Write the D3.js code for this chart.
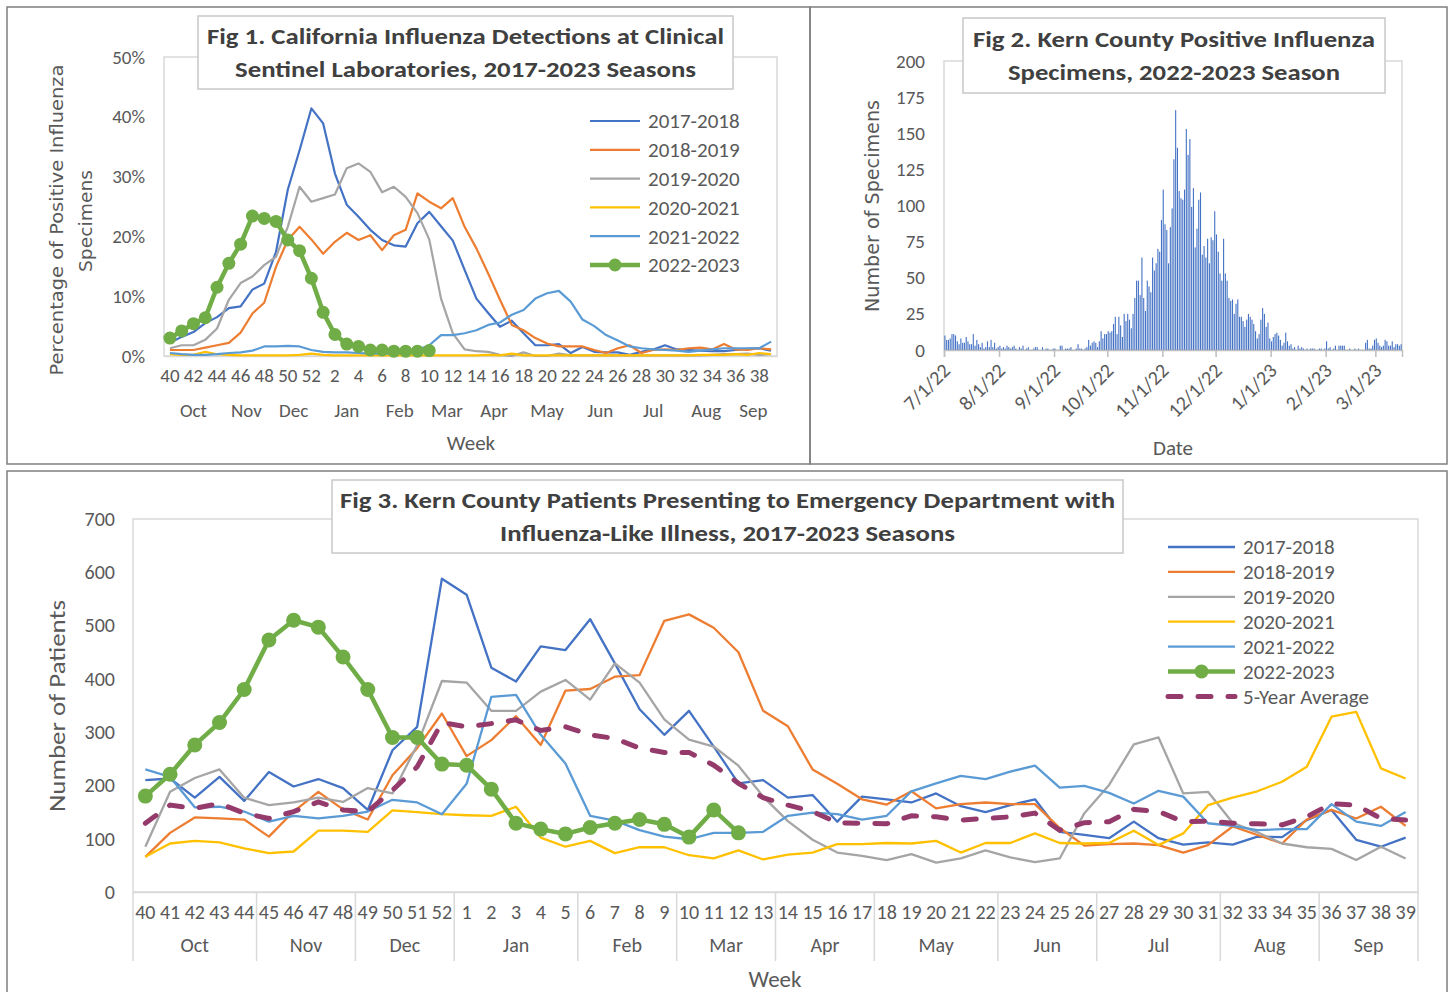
<!DOCTYPE html>
<html>
<head>
<meta charset="utf-8">
<script src="https://cdn.jsdelivr.net/npm/d3@7"></script>
<style>
  body { margin: 0; background: #fff; }
  svg text { font-family: "Liberation Sans Narrow", Carlito, "Open Sans", sans-serif; fill: #595959; }
</style>
</head>
<body>
<svg id="chart" width="1450" height="992"></svg>
<script>
// ---- shared categories ----
const weeks = [40, 41, 42, 43, 44, 45, 46, 47, 48, 49, 50, 51, 52,
  1, 2, 3, 4, 5, 6, 7, 8, 9, 10, 11, 12, 13, 14, 15, 16, 17, 18, 19, 20,
  21, 22, 23, 24, 25, 26, 27, 28, 29, 30, 31, 32, 33, 34, 35, 36, 37, 38, 39];
const monthNames = ["Oct", "Nov", "Dec", "Jan", "Feb", "Mar", "Apr", "May", "Jun", "Jul", "Aug", "Sep"];
const monthWeekCounts = [5, 4, 4, 5, 4, 4, 4, 5, 4, 5, 4, 4];
const seasonNames = ["2017-2018", "2018-2019", "2019-2020", "2020-2021", "2021-2022", "2022-2023"];

// ---- Fig 1: % positive, California sentinel labs ----
const fig1S1718 = [2.2, 3.2, 4.0, 5.5, 6.5, 8.0, 8.3, 11.1, 12.1, 17.4, 27.8, 34.4, 41.4, 38.9, 30.5, 25.3, 23.3, 21.1, 19.4, 18.5, 18.3, 22.2, 24.1, 21.7, 19.3, 14.4, 9.6, 7.2, 4.9, 5.9, 3.8, 1.8, 1.8, 2.0, 0.5, 1.5, 0.7, 0.6, 0.6, 0.2, 0.7, 1.1, 1.8, 1.1, 1.0, 0.9, 0.8, 0.8, 1.0, 1.2, 1.3, 0.9];
const fig1S1819 = [1.0, 1.0, 1.0, 1.4, 1.8, 2.2, 3.9, 7.1, 8.9, 14.9, 19.4, 21.6, 19.5, 17.1, 19.1, 20.6, 19.4, 20.2, 17.7, 20.2, 21.1, 27.2, 25.8, 24.7, 26.4, 21.6, 18.0, 13.8, 9.4, 5.2, 4.3, 3.0, 2.1, 1.6, 1.6, 1.6, 1.0, 0.5, 1.3, 1.8, 0.5, 1.0, 1.1, 1.0, 1.3, 1.4, 1.1, 2.0, 1.1, 1.0, 1.3, 1.1];
const fig1S1920 = [1.3, 1.8, 1.8, 2.7, 4.6, 9.4, 12.2, 13.3, 15.2, 16.6, 21.6, 28.3, 25.8, 26.4, 27.0, 31.4, 32.2, 30.8, 27.4, 28.3, 26.6, 23.9, 19.5, 9.6, 3.8, 1.1, 0.8, 0.7, 0.2, 0.0, 0.6, 0.0, 0.0, 0.4, 0.1, 0.1, 0.1, 0.1, 0.1, 0.1, 0.1, 0.1, 0.1, 0.1, 0.1, 0.1, 0.2, 0.3, 0.3, 0.4, 0.2, 0.3];
const fig1S2021 = [0.3, 0.2, 0.2, 0.7, 0.3, 0.2, 0.1, 0.1, 0.1, 0.1, 0.1, 0.2, 0.4, 0.2, 0.1, 0.1, 0.1, 0.1, 0.1, 0.1, 0.1, 0.1, 0.1, 0.1, 0.1, 0.1, 0.1, 0.2, 0.1, 0.4, 0.1, 0.1, 0.1, 0.1, 0.1, 0.1, 0.1, 0.1, 0.1, 0.1, 0.1, 0.1, 0.1, 0.1, 0.1, 0.2, 0.2, 0.2, 0.3, 0.2, 0.5, 0.3];
const fig1S2122 = [0.5, 0.3, 0.2, 0.2, 0.3, 0.5, 0.6, 0.9, 1.6, 1.6, 1.7, 1.6, 1.0, 0.7, 0.6, 0.6, 0.5, 0.4, 0.4, 0.4, 0.6, 1.0, 1.8, 3.5, 3.5, 3.8, 4.3, 5.2, 5.6, 6.9, 7.7, 9.6, 10.5, 10.9, 9.1, 6.1, 5.0, 3.5, 2.6, 1.6, 1.3, 1.1, 1.0, 0.9, 0.7, 0.9, 1.1, 1.3, 1.3, 1.3, 1.3, 2.4];
const fig1S2223 = [3.0, 4.2, 5.4, 6.4, 11.5, 15.5, 18.7, 23.4, 23.0, 22.5, 19.4, 17.6, 13.0, 7.3, 3.6, 2.0, 1.6, 1.0, 1.0, 0.8, 0.8, 0.8, 0.9];
const fig1Ticks = [0, 10, 20, 30, 40, 50];

// ---- Fig 2: Kern County daily positive specimens, 7/1/22 - 3/15/23 ----
const fig2Start = "2022-07-01";
const countsJul = [10, 7, 7, 8, 11, 11, 10, 6, 4, 8, 5, 5, 9, 6, 4, 4, 11, 3, 7, 4, 2, 5, 1, 2, 6, 2, 7, 2, 5, 1, 2];
const countsAug = [3, 1, 2, 1, 3, 2, 1, 2, 3, 1, 0, 2, 1, 3, 0, 1, 2, 0, 0, 1, 2, 2, 0, 0, 2, 0, 1, 1, 0, 0, 1];
const countsSep = [1, 0, 0, 3, 3, 0, 1, 1, 1, 2, 0, 0, 1, 4, 1, 1, 0, 1, 2, 7, 3, 5, 6, 5, 2, 6, 13, 8, 11, 11];
const countsOct = [13, 12, 13, 18, 23, 11, 23, 17, 9, 25, 20, 25, 21, 15, 25, 36, 48, 48, 38, 64, 36, 27, 48, 44, 40, 64, 55, 60, 70, 68, 90];
const countsNov = [111, 87, 83, 60, 85, 98, 132, 166, 140, 110, 105, 104, 111, 153, 135, 146, 99, 112, 71, 84, 104, 109, 66, 72, 64, 77, 60, 78, 76, 96];
const countsDec = [80, 68, 53, 48, 77, 53, 48, 36, 34, 35, 25, 32, 35, 23, 23, 20, 16, 21, 25, 23, 21, 18, 13, 8, 11, 21, 29, 25, 16, 19, 8];
const countsJan = [6, 9, 11, 12, 10, 7, 3, 5, 12, 6, 3, 4, 1, 2, 0, 3, 1, 2, 1, 0, 1, 0, 1, 1, 1, 0, 0, 1, 1, 0, 1];
const countsFeb = [6, 1, 2, 0, 1, 3, 0, 3, 3, 3, 3, 0, 0, 1, 0, 0, 1, 0, 1, 0, 0, 0, 5, 7, 1, 1, 3, 7];
const countsMar = [8, 5, 3, 2, 3, 7, 6, 3, 3, 6, 2, 4, 4, 3, 4];
const fig2Ticks = [0, 25, 50, 75, 100, 125, 150, 175, 200];

// ---- Fig 3: ED visits for ILI, Kern County ----
const fig3S1718 = [210, 213, 177, 216, 171, 225, 198, 212, 195, 154, 266, 310, 588, 558, 421, 395, 461, 454, 512, 429, 343, 295, 340, 273, 204, 210, 177, 182, 132, 179, 174, 168, 185, 161, 150, 163, 174, 113, 107, 101, 132, 101, 89, 93, 89, 104, 103, 135, 154, 98, 85, 102];
const fig3S1819 = [66, 111, 140, 138, 136, 104, 151, 188, 155, 136, 219, 270, 335, 255, 285, 330, 276, 378, 381, 404, 407, 509, 521, 496, 450, 340, 311, 230, 203, 174, 164, 189, 157, 165, 168, 165, 165, 120, 87, 90, 91, 88, 74, 88, 123, 107, 91, 136, 154, 138, 160, 124];
const fig3S1920 = [85, 188, 214, 230, 177, 163, 168, 177, 169, 195, 185, 276, 396, 393, 340, 340, 376, 398, 361, 429, 393, 324, 286, 273, 237, 179, 133, 98, 74, 68, 60, 71, 55, 63, 78, 65, 56, 63, 148, 201, 277, 290, 185, 188, 130, 112, 91, 84, 81, 60, 85, 63];
const fig3S2021 = [66, 91, 96, 93, 82, 73, 76, 115, 115, 113, 153, 150, 146, 144, 143, 160, 102, 85, 96, 73, 84, 84, 69, 63, 78, 61, 70, 74, 90, 90, 92, 91, 96, 74, 92, 92, 110, 92, 91, 92, 115, 88, 110, 163, 177, 189, 207, 235, 329, 338, 232, 213];
const fig3S2122 = [230, 216, 159, 160, 151, 132, 143, 138, 143, 151, 173, 168, 146, 203, 366, 370, 295, 241, 143, 134, 116, 104, 99, 111, 111, 113, 143, 149, 146, 136, 143, 189, 204, 218, 212, 226, 237, 196, 199, 186, 166, 190, 179, 129, 124, 116, 118, 118, 165, 132, 124, 150];
const fig3S2223 = [180, 221, 276, 318, 380, 473, 510, 497, 441, 380, 290, 290, 240, 238, 193, 129, 118, 109, 121, 129, 136, 127, 103, 154, 111];
const fig3Avg = [129, 163, 157, 166, 148, 138, 151, 169, 154, 151, 191, 235, 318, 310, 316, 323, 303, 310, 295, 288, 270, 262, 262, 238, 204, 177, 163, 151, 130, 129, 128, 143, 141, 135, 138, 141, 148, 116, 130, 132, 155, 151, 132, 133, 129, 128, 126, 141, 166, 163, 138, 135];
const fig3Ticks = [0, 100, 200, 300, 400, 500, 600, 700];

// ---- styles ----
const COLORS = ["#4472C4", "#ED7D31", "#A5A5A5", "#FFC000", "#5B9BD5", "#70AD47"];
const AVG_COLOR = "#953B6C";
const TITLE_COLOR = "#404040";
const FRAME = "#d9d9d9";
const WIDE_FONT = '"DejaVu Sans", Verdana, sans-serif';

const svg = d3.select("#chart");

// outer panels
[[7, 7, 803, 457], [810, 7, 637, 457], [7, 471, 1440, 530]].forEach(([x, y, w, h]) => {
  svg.append("rect").attr("x", x).attr("y", y).attr("width", w).attr("height", h)
    .attr("fill", "none").attr("stroke", "#7f7f7f").attr("stroke-width", 1.5);
});

function titleBox(x, y, w, h, lines, lengths, fontSize, lineGap) {
  const g = svg.append("g");
  g.append("rect").attr("x", x).attr("y", y).attr("width", w).attr("height", h)
    .attr("fill", "#fff").attr("stroke", "#c8c8c8").attr("stroke-width", 1.5);
  lines.forEach((t, i) => {
    g.append("text")
      .attr("x", x + w / 2)
      .attr("y", y + h / 2 + (i - (lines.length - 1) / 2) * lineGap)
      .attr("dy", "0.35em")
      .attr("text-anchor", "middle")
      .attr("font-weight", "bold")
      .attr("font-size", fontSize)
      .attr("textLength", lengths[i])
      .attr("lengthAdjust", "spacingAndGlyphs")
      .style("fill", TITLE_COLOR)
      .text(t);
  });
}

function rotatedTitle(cx, cy, text, fontSize, length, family) {
  const t = svg.append("text")
    .attr("transform", `translate(${cx},${cy}) rotate(-90)`)
    .attr("text-anchor", "middle")
    .attr("dy", "0.35em")
    .attr("font-size", fontSize)
    .text(text);
  if (length) t.attr("textLength", length).attr("lengthAdjust", "spacingAndGlyphs");
  if (family) t.style("font-family", family);
}

function legend(items, x0, x1, tx, y0, dy, fontSize) {
  const g = svg.append("g");
  items.forEach((it, i) => {
    const y = y0 + i * dy;
    g.append("line").attr("x1", x0).attr("x2", x1).attr("y1", y).attr("y2", y)
      .attr("stroke", it.color).attr("stroke-width", it.width)
      .attr("stroke-dasharray", it.dash || null)
      .attr("stroke-linecap", it.dash ? "round" : "butt");
    if (it.marker) {
      g.append("circle").attr("cx", (x0 + x1) / 2).attr("cy", y).attr("r", it.marker).attr("fill", it.color);
    }
    g.append("text").attr("x", tx).attr("y", y).attr("dy", "0.35em")
      .attr("font-size", fontSize).text(it.label);
  });
}

function monthGroups() {
  const starts = d3.cumsum([0].concat(monthWeekCounts.slice(0, -1)));
  return monthNames.map((m, i) => ({ name: m, start: starts[i], count: monthWeekCounts[i] }));
}

// ================= Fig 1 =================
(function () {
  const left = 164, right = 777, top = 57, bottom = 356;
  const x = d3.scaleBand().domain(weeks).range([left, right]);
  const y = d3.scaleLinear().domain([0, 50]).range([bottom, top]);
  const bw = x.bandwidth();

  svg.append("rect").attr("x", left).attr("y", top).attr("width", right - left).attr("height", bottom - top)
    .attr("fill", "none").attr("stroke", FRAME).attr("stroke-width", 1.5);

  const yAxis = svg.append("g").attr("transform", `translate(${left},0)`)
    .call(d3.axisLeft(y).tickValues(fig1Ticks).tickFormat(d => d + "%").tickSize(0).tickPadding(19));
  yAxis.select(".domain").remove();
  yAxis.selectAll("text").attr("font-size", 19).style("font-family", null);

  const xAxis = svg.append("g").attr("transform", `translate(0,${bottom})`)
    .call(d3.axisBottom(x).tickValues(weeks.filter((d, i) => i % 2 === 0)).tickSize(0).tickPadding(13));
  xAxis.select(".domain").attr("stroke", FRAME).attr("stroke-width", 1.5);
  xAxis.selectAll("text").attr("font-size", 19).style("font-family", null);

  monthGroups().forEach(m => {
    svg.append("text")
      .attr("x", x(weeks[m.start]) + bw * m.count / 2)
      .attr("y", 410).attr("dy", "0.35em").attr("text-anchor", "middle")
      .attr("font-size", 19).text(m.name);
  });
  svg.append("text").attr("x", 471).attr("y", 443).attr("dy", "0.35em")
    .attr("text-anchor", "middle").attr("font-size", 21).text("Week");

  rotatedTitle(57, 220, "Percentage of Positive Influenza", 18, 311, WIDE_FONT);
  rotatedTitle(86, 221, "Specimens", 18, 102, WIDE_FONT);

  const series = [fig1S1718, fig1S1819, fig1S1920, fig1S2021, fig1S2122, fig1S2223];
  const line = d3.line().x((d, i) => x(weeks[i]) + bw / 2).y(d => y(d));
  series.forEach((vals, k) => {
    svg.append("path").datum(vals).attr("d", line).attr("fill", "none")
      .attr("stroke", COLORS[k]).attr("stroke-width", k === 5 ? 4.5 : 2.2)
      .attr("stroke-linejoin", "round");
  });
  svg.append("g").selectAll("circle").data(fig1S2223).join("circle")
    .attr("cx", (d, i) => x(weeks[i]) + bw / 2).attr("cy", d => y(d))
    .attr("r", 6.5).attr("fill", COLORS[5]);

  titleBox(198, 16, 535, 73,
    ["Fig 1. California Influenza Detections at Clinical", "Sentinel Laboratories, 2017-2023 Seasons"],
    [517, 461], 23, 33);

  legend(seasonNames.map((s, k) => ({
    label: s, color: COLORS[k], width: k === 5 ? 4.5 : 2.2, marker: k === 5 ? 6.5 : 0
  })), 590, 640, 648, 121, 28.8, 21);
})();

// ================= Fig 2 =================
(function () {
  const left = 944, right = 1402, top = 61, bottom = 350;
  const counts = [].concat(countsJul, countsAug, countsSep, countsOct, countsNov, countsDec, countsJan, countsFeb, countsMar);
  const start = d3.timeParse("%Y-%m-%d")(fig2Start);
  const days = counts.map((v, i) => ({ date: d3.timeDay.offset(start, i), value: v }));
  const x = d3.scaleTime().domain([start, d3.timeDay.offset(start, counts.length)]).range([left, right]);
  const y = d3.scaleLinear().domain([0, 200]).range([bottom, top]);
  const dayW = (right - left) / counts.length;
  const barW = 1.1;

  svg.append("rect").attr("x", left).attr("y", top).attr("width", right - left).attr("height", bottom - top)
    .attr("fill", "none").attr("stroke", FRAME).attr("stroke-width", 1.5);

  const yAxis = svg.append("g").attr("transform", `translate(${left},0)`)
    .call(d3.axisLeft(y).tickValues(fig2Ticks).tickSize(0).tickPadding(19));
  yAxis.select(".domain").remove();
  yAxis.selectAll("text").attr("font-size", 19).style("font-family", null);

  svg.append("g").selectAll("rect").data(days).join("rect")
    .attr("x", d => x(d.date) + (dayW - barW) / 2)
    .attr("width", barW)
    .attr("y", d => y(d.value))
    .attr("height", d => y(0) - y(d.value))
    .attr("fill", "#4472C4");

  const xAxis = svg.append("g").attr("transform", `translate(0,${bottom})`)
    .call(d3.axisBottom(x).ticks(d3.timeMonth.every(1)).tickFormat(d3.timeFormat("%-m/%-d/%y")).tickSize(7));
  xAxis.select(".domain").attr("stroke", "#bfbfbf").attr("stroke-width", 1.5);
  xAxis.selectAll(".tick line").attr("stroke", "#bfbfbf").attr("stroke-width", 1.5);
  xAxis.selectAll("text")
    .attr("font-size", 20).style("font-family", null)
    .attr("text-anchor", "end")
    .attr("x", 0).attr("y", 0).attr("dy", "0.35em")
    .attr("transform", "translate(2,17) rotate(-45)");

  svg.append("text").attr("x", 1173).attr("y", 448).attr("dy", "0.35em")
    .attr("text-anchor", "middle").attr("font-size", 21).text("Date");
  rotatedTitle(872, 206, "Number of Specimens", 19, 212, WIDE_FONT);

  titleBox(963, 18, 422, 75,
    ["Fig 2. Kern County Positive Influenza", "Specimens, 2022-2023 Season"],
    [402, 332], 23, 33);
})();

// ================= Fig 3 =================
(function () {
  const left = 133, right = 1418, top = 519, bottom = 892;
  const x = d3.scaleBand().domain(weeks).range([left, right]);
  const y = d3.scaleLinear().domain([0, 700]).range([bottom, top]);
  const bw = x.bandwidth();

  svg.append("rect").attr("x", left).attr("y", top).attr("width", right - left).attr("height", bottom - top)
    .attr("fill", "none").attr("stroke", FRAME).attr("stroke-width", 1.5);

  const yAxis = svg.append("g").attr("transform", `translate(${left},0)`)
    .call(d3.axisLeft(y).tickValues(fig3Ticks).tickSize(0).tickPadding(18));
  yAxis.select(".domain").remove();
  yAxis.selectAll("text").attr("font-size", 20).style("font-family", null);

  const xAxis = svg.append("g").attr("transform", `translate(0,${bottom})`)
    .call(d3.axisBottom(x).tickSize(0).tickPadding(13));
  xAxis.select(".domain").attr("stroke", FRAME).attr("stroke-width", 1.5);
  xAxis.selectAll("text").attr("font-size", 20).style("font-family", null);

  const groups = monthGroups();
  groups.forEach(m => {
    svg.append("text")
      .attr("x", x(weeks[m.start]) + bw * m.count / 2)
      .attr("y", 945).attr("dy", "0.35em").attr("text-anchor", "middle")
      .attr("font-size", 20).text(m.name);
  });
  groups.map(m => x(weeks[m.start])).concat([right]).forEach(sx => {
    svg.append("line").attr("x1", sx).attr("x2", sx).attr("y1", bottom).attr("y2", 961)
      .attr("stroke", FRAME).attr("stroke-width", 1.5);
  });

  svg.append("text").attr("x", 775).attr("y", 979).attr("dy", "0.35em")
    .attr("text-anchor", "middle").attr("font-size", 23).text("Week");
  rotatedTitle(57, 706, "Number of Patients", 23, 212);

  const line = d3.line().x((d, i) => x(weeks[i]) + bw / 2).y(d => y(d));
  const series = [fig3S1718, fig3S1819, fig3S1920, fig3S2021, fig3S2122];
  series.forEach((vals, k) => {
    svg.append("path").datum(vals).attr("d", line).attr("fill", "none")
      .attr("stroke", COLORS[k]).attr("stroke-width", 2.3).attr("stroke-linejoin", "round");
  });
  svg.append("path").datum(fig3Avg).attr("d", line).attr("fill", "none")
    .attr("stroke", AVG_COLOR).attr("stroke-width", 5)
    .attr("stroke-dasharray", "13,17").attr("stroke-linecap", "round");
  svg.append("path").datum(fig3S2223).attr("d", line).attr("fill", "none")
    .attr("stroke", COLORS[5]).attr("stroke-width", 4.5).attr("stroke-linejoin", "round");
  svg.append("g").selectAll("circle").data(fig3S2223).join("circle")
    .attr("cx", (d, i) => x(weeks[i]) + bw / 2).attr("cy", d => y(d))
    .attr("r", 7.5).attr("fill", COLORS[5]);

  titleBox(332, 480, 791, 73,
    ["Fig 3. Kern County Patients Presenting to Emergency Department with",
     "Influenza-Like Illness, 2017-2023 Seasons"],
    [775, 455], 23, 33);

  const items = seasonNames.map((s, k) => ({
    label: s, color: COLORS[k], width: k === 5 ? 4.5 : 2.3, marker: k === 5 ? 7 : 0
  }));
  items.push({ label: "5-Year Average", color: AVG_COLOR, width: 5, dash: "13,17" });
  legend(items, 1168, 1235, 1243, 547, 24.9, 21);
})();
</script>
</body>
</html>
